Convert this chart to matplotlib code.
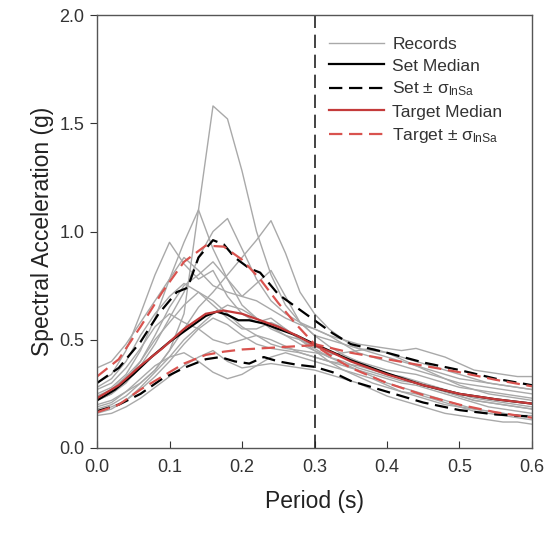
import numpy as np
import matplotlib
matplotlib.use('Agg')
import matplotlib.pyplot as plt

plt.rcParams['font.family'] = ['Liberation Sans', 'DejaVu Sans']
plt.rcParams['mathtext.fontset'] = 'custom'
plt.rcParams['mathtext.rm'] = 'Liberation Sans'
plt.rcParams['mathtext.it'] = 'Liberation Sans'

# periods of the ground motion records (s)
rec_period = np.round(np.arange(0, 0.601, 0.02), 2)

# spectral acceleration of each record (g)
records = [
    [0.20, 0.22, 0.26, 0.30, 0.36, 0.45, 0.62, 1.10, 1.58, 1.52, 1.28, 1.00, 0.80, 0.66, 0.58, 0.52,
     0.47, 0.43, 0.40, 0.37, 0.34, 0.32, 0.30, 0.28, 0.26, 0.24, 0.22, 0.21, 0.20, 0.19, 0.18],
    [0.25, 0.28, 0.34, 0.45, 0.60, 0.78, 0.95, 1.10, 0.92, 0.78, 0.66, 0.60, 0.55, 0.52, 0.50, 0.47,
     0.44, 0.42, 0.40, 0.38, 0.36, 0.35, 0.34, 0.32, 0.30, 0.28, 0.27, 0.26, 0.25, 0.24, 0.23],
    [0.22, 0.25, 0.30, 0.38, 0.48, 0.60, 0.72, 0.88, 1.00, 1.06, 0.92, 0.78, 0.68, 0.62, 0.58, 0.55,
     0.52, 0.48, 0.44, 0.42, 0.40, 0.38, 0.36, 0.34, 0.32, 0.30, 0.29, 0.28, 0.27, 0.26, 0.25],
    [0.18, 0.20, 0.24, 0.30, 0.36, 0.45, 0.55, 0.65, 0.72, 0.80, 0.88, 0.96, 1.05, 0.90, 0.72, 0.62,
     0.55, 0.50, 0.46, 0.44, 0.42, 0.40, 0.38, 0.36, 0.34, 0.32, 0.31, 0.30, 0.29, 0.28, 0.27],
    [0.30, 0.34, 0.45, 0.62, 0.80, 0.95, 0.85, 0.78, 0.82, 0.70, 0.62, 0.58, 0.60, 0.55, 0.50, 0.46,
     0.42, 0.40, 0.37, 0.35, 0.33, 0.31, 0.30, 0.28, 0.26, 0.24, 0.22, 0.21, 0.20, 0.19, 0.18],
    [0.37, 0.40, 0.48, 0.58, 0.68, 0.78, 0.88, 0.82, 0.75, 0.72, 0.70, 0.68, 0.64, 0.60, 0.57, 0.55,
     0.52, 0.50, 0.48, 0.47, 0.46, 0.45, 0.46, 0.44, 0.42, 0.39, 0.36, 0.35, 0.34, 0.33, 0.33],
    [0.16, 0.18, 0.22, 0.28, 0.35, 0.42, 0.50, 0.56, 0.62, 0.66, 0.64, 0.60, 0.56, 0.52, 0.48, 0.45,
     0.42, 0.39, 0.36, 0.33, 0.30, 0.28, 0.26, 0.24, 0.22, 0.20, 0.18, 0.17, 0.16, 0.15, 0.14],
    [0.24, 0.27, 0.33, 0.40, 0.50, 0.58, 0.66, 0.72, 0.68, 0.62, 0.56, 0.52, 0.48, 0.46, 0.45, 0.44,
     0.43, 0.44, 0.45, 0.46, 0.44, 0.41, 0.38, 0.35, 0.32, 0.29, 0.27, 0.25, 0.24, 0.23, 0.22],
    [0.15, 0.16, 0.19, 0.23, 0.28, 0.33, 0.38, 0.42, 0.45, 0.40, 0.37, 0.38, 0.39, 0.38, 0.37, 0.36,
     0.34, 0.32, 0.30, 0.27, 0.24, 0.22, 0.20, 0.18, 0.16, 0.15, 0.14, 0.13, 0.12, 0.12, 0.11],
    [0.28, 0.32, 0.40, 0.52, 0.62, 0.70, 0.76, 0.72, 0.66, 0.60, 0.55, 0.55, 0.58, 0.55, 0.50, 0.45,
     0.40, 0.36, 0.33, 0.30, 0.28, 0.26, 0.25, 0.23, 0.21, 0.19, 0.18, 0.17, 0.16, 0.15, 0.15],
    [0.19, 0.21, 0.26, 0.32, 0.38, 0.42, 0.44, 0.40, 0.35, 0.32, 0.34, 0.38, 0.42, 0.44, 0.42, 0.40,
     0.38, 0.36, 0.34, 0.32, 0.29, 0.26, 0.24, 0.22, 0.20, 0.19, 0.17, 0.16, 0.15, 0.14, 0.13],
    [0.22, 0.25, 0.31, 0.40, 0.52, 0.65, 0.75, 0.80, 0.86, 0.78, 0.70, 0.76, 0.82, 0.70, 0.58, 0.52,
     0.50, 0.48, 0.46, 0.45, 0.44, 0.42, 0.40, 0.38, 0.36, 0.34, 0.32, 0.30, 0.29, 0.28, 0.27],
    [0.17, 0.19, 0.22, 0.27, 0.33, 0.40, 0.48, 0.55, 0.60, 0.57, 0.52, 0.48, 0.46, 0.45, 0.44, 0.42,
     0.40, 0.38, 0.36, 0.34, 0.32, 0.30, 0.29, 0.27, 0.25, 0.23, 0.21, 0.19, 0.18, 0.17, 0.16],
    [0.27, 0.30, 0.37, 0.46, 0.56, 0.62, 0.58, 0.55, 0.50, 0.48, 0.50, 0.52, 0.50, 0.47, 0.44, 0.42,
     0.40, 0.39, 0.38, 0.36, 0.34, 0.33, 0.31, 0.29, 0.27, 0.25, 0.23, 0.22, 0.21, 0.20, 0.19],
]

# set median and +/- sigma
set_med_T = [0, 0.025, 0.05, 0.075, 0.1, 0.125, 0.15, 0.165, 0.18, 0.195, 0.21, 0.23, 0.25, 0.275,
             0.3, 0.35, 0.4, 0.45, 0.5, 0.55, 0.6]
set_med = [0.22, 0.27, 0.34, 0.42, 0.49, 0.55, 0.61, 0.63, 0.615, 0.59, 0.59, 0.575, 0.55, 0.52,
           0.48, 0.405, 0.345, 0.29, 0.25, 0.225, 0.205]

set_hi_T = [0, 0.03, 0.06, 0.085, 0.11, 0.125, 0.14, 0.16, 0.175, 0.19, 0.21, 0.225, 0.25, 0.275,
            0.3, 0.325, 0.35, 0.4, 0.45, 0.5, 0.55, 0.6]
set_hi = [0.30, 0.37, 0.49, 0.62, 0.72, 0.74, 0.88, 0.96, 0.94, 0.88, 0.83, 0.81, 0.71, 0.65,
          0.59, 0.53, 0.48, 0.44, 0.395, 0.36, 0.32, 0.29]

set_lo_T = [0, 0.03, 0.06, 0.09, 0.12, 0.15, 0.17, 0.19, 0.21, 0.23, 0.25, 0.275, 0.3, 0.325,
            0.35, 0.4, 0.45, 0.5, 0.55, 0.6]
set_lo = [0.17, 0.20, 0.25, 0.32, 0.37, 0.41, 0.42, 0.40, 0.39, 0.42, 0.40, 0.385, 0.375, 0.35,
          0.31, 0.26, 0.21, 0.175, 0.155, 0.145]

# target (conditional) median and +/- sigma
tgt_T = [0, 0.03, 0.06, 0.09, 0.12, 0.15, 0.175, 0.2, 0.225, 0.25, 0.275, 0.3, 0.325, 0.35, 0.4,
         0.45, 0.5, 0.55, 0.6]
tgt_med = [0.23, 0.29, 0.38, 0.46, 0.55, 0.62, 0.635, 0.62, 0.59, 0.56, 0.52, 0.475, 0.44, 0.40,
           0.34, 0.29, 0.25, 0.225, 0.205]
tgt_hi = [0.33, 0.41, 0.56, 0.72, 0.86, 0.935, 0.93, 0.87, 0.78, 0.67, 0.57, 0.48, 0.46, 0.44,
          0.41, 0.38, 0.35, 0.315, 0.285]
tgt_lo = [0.165, 0.20, 0.27, 0.33, 0.39, 0.43, 0.445, 0.455, 0.46, 0.465, 0.47, 0.475, 0.42, 0.37,
          0.30, 0.245, 0.20, 0.165, 0.14]

T_star = 0.3

gray = '#a9a9a9'
red = '#c43a3a'
red_light = '#d9534f'

fig = plt.figure(figsize=(5.45, 5.36), dpi=100)
ax = fig.add_axes([97 / 545, 88 / 536, 435 / 545, 433 / 536])

for i, r in enumerate(records):
    ax.plot(rec_period, r, color=gray, lw=1.0, label='Records' if i == 0 else None)

ax.plot(set_med_T, set_med, color='black', lw=1.6, label='Set Median')
ax.plot(set_hi_T, set_hi, color='black', lw=1.6, dashes=(6, 3),
        label='Set ± σ$_{\\mathregular{lnSa}}$')
ax.plot(set_lo_T, set_lo, color='black', lw=1.6, dashes=(6, 3))
ax.plot(tgt_T, tgt_med, color=red, lw=1.6, label='Target Median')
ax.plot(tgt_T, tgt_hi, color=red_light, lw=1.6, dashes=(6, 3),
        label='Target ± σ$_{\\mathregular{lnSa}}$')
ax.plot(tgt_T, tgt_lo, color=red_light, lw=1.6, dashes=(6, 3))

ax.axvline(T_star, color='#222222', lw=1.2, dashes=(8, 4))

ax.set_xlim(0, 0.6)
ax.set_ylim(0, 2.0)
ax.set_xticks(np.arange(0, 0.61, 0.1))
ax.set_yticks(np.arange(0, 2.01, 0.5))
ax.xaxis.set_major_formatter(matplotlib.ticker.FormatStrFormatter('%.1f'))
ax.yaxis.set_major_formatter(matplotlib.ticker.FormatStrFormatter('%.1f'))
ax.tick_params(axis='x', direction='in', length=5, pad=8, labelsize=13, colors='#333333')
ax.tick_params(axis='y', direction='out', length=5, pad=4, labelsize=13, colors='#333333')
for s in ax.spines.values():
    s.set_color('#555555')
    s.set_linewidth(1.0)

ax.set_xlabel('Period (s)', fontsize=16.5, color='#222222', labelpad=10)
ax.set_ylabel('Spectral Acceleration (g)', fontsize=16.5, color='#222222', labelpad=4)

leg = ax.legend(loc='upper left', bbox_to_anchor=(0.497, 0.985), frameon=False, fontsize=12.5,
                handlelength=3.2, handletextpad=0.45, labelspacing=0.35)
for t in leg.get_texts():
    t.set_color('#333333')

fig.savefig('out.png', dpi=100)
